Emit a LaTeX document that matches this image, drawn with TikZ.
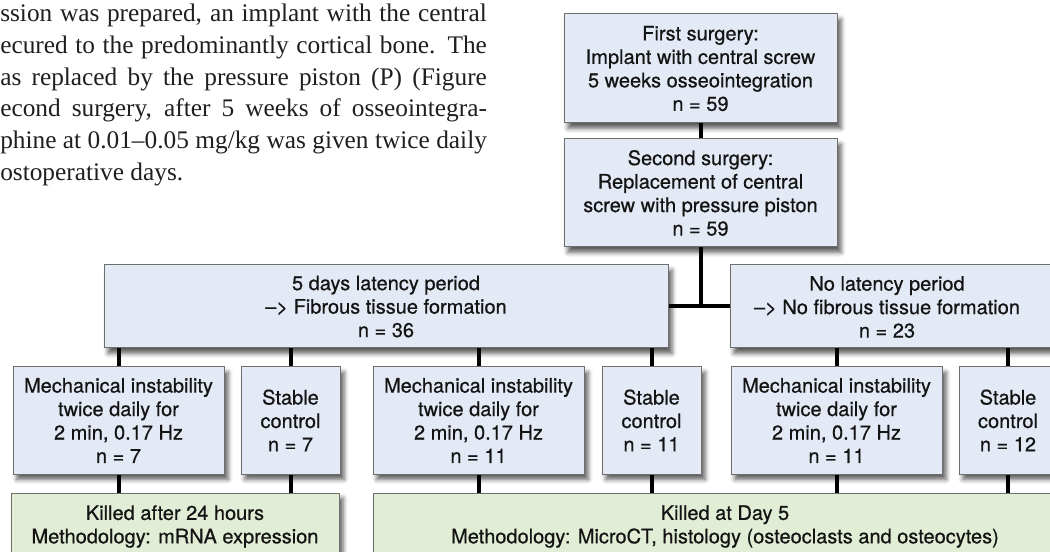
\documentclass[tikz,border=0pt]{standalone}
\usepackage{fontspec}
\setmainfont{Liberation Serif}
\newfontfamily\boxfont[FakeBold=0.6]{TeX Gyre Heros}
\usetikzlibrary{shadows.blur}
\definecolor{boxblue}{RGB}{228,234,245}
\definecolor{boxgreen}{RGB}{225,237,213}
\definecolor{boxline}{RGB}{110,110,110}
\begin{document}
\begin{tikzpicture}[x=0.75pt,y=-0.75pt,
  box/.style={draw=boxline, line width=0.75pt, inner sep=0pt, align=center,
    font=\boxfont\fontsize{15}{17.6}\selectfont, text=black!92,
    blur shadow={shadow xshift=3pt, shadow yshift=-4pt, shadow blur radius=3.5pt, shadow opacity=65}},
  bluebox/.style={box, fill=boxblue},
  greenbox/.style={box, fill=boxgreen},
  txt/.style={inner sep=0pt, align=center, font=\boxfont\fontsize{15}{17.6}\selectfont, text=black!92},
  conn/.style={line width=3pt, black},
  para/.style={anchor=base west, inner sep=0pt, font=\fontsize{19}{23}\selectfont, text=black!88}
]
\useasboundingbox (0,0) rectangle (1050,552);
\clip (0,0) rectangle (1050,552);

% paragraph text
\node[para] (p1) at (0,21.7)  {\makebox[365pt][s]{ssion was prepared, an implant with the central}};
\node[para] (p2) at (0,53.4)  {\makebox[365pt][s]{ecured to the predominantly cortical bone. The}};
\node[para] (p3) at (0,85.1)  {\makebox[365pt][s]{as replaced by the pressure piston (P) (Figure}};
\node[para] (p4) at (0,116.8) {\makebox[365pt][s]{econd surgery, after 5 weeks of osseointegra-}};
\node[para] (p5) at (0,148.5) {\makebox[365pt][s]{phine at 0.01–0.05 mg/kg was given twice daily}};
\node[para] (p6) at (0,180.2) {ostoperative days.};

% boxes
\node[bluebox, minimum width=204.75pt, minimum height=81.75pt] (A) at (700.5,68.5)
  {First surgery:\\Implant with central screw\\5 weeks osseointegration\\n = 59};
\node[bluebox, minimum width=204.75pt, minimum height=81pt] (B) at (700.5,193)
  {Second surgery:\\Replacement of central\\screw with pressure piston\\n = 59};
\node[bluebox, minimum width=423pt, minimum height=62.25pt] (C) at (386,306.5)
  {5 days latency period\\–> Fibrous tissue formation\\n = 36};
\node[bluebox, minimum width=255pt, minimum height=62.25pt] (D) at (900,306.5) {};
\node[txt] (Dt) at (887,307) {No latency period\\–> No fibrous tissue formation\\n = 23};

\node[bluebox, minimum width=158.25pt, minimum height=80.25pt] (E1) at (118.5,420.5)
  {Mechanical instability\\twice daily for\\2 min, 0.17 Hz\\n = 7};
\node[bluebox, minimum width=74.25pt, minimum height=80.25pt] (E2) at (290.5,420.5)
  {Stable\\control\\n = 7};
\node[bluebox, minimum width=158.25pt, minimum height=80.25pt] (E3) at (478.5,420.5)
  {Mechanical instability\\twice daily for\\2 min, 0.17 Hz\\n = 11};
\node[bluebox, minimum width=74.25pt, minimum height=80.25pt] (E4) at (651.5,420.5)
  {Stable\\control\\n = 11};
\node[bluebox, minimum width=158.25pt, minimum height=80.25pt] (E5) at (836.5,420.5)
  {Mechanical instability\\twice daily for\\2 min, 0.17 Hz\\n = 11};
\node[bluebox, minimum width=73.5pt, minimum height=80.25pt] (E6) at (1008,420.5)
  {Stable\\control\\n = 12};

\node[greenbox, minimum width=246pt, minimum height=50.25pt] (F1) at (175,526.5)
  {Killed after 24 hours\\Methodology: mRNA expression};
\node[greenbox, minimum width=528pt, minimum height=50.25pt] (F2) at (725,526.5)
  {Killed at Day 5\\Methodology: MicroCT, histology (osteoclasts and osteocytes)};

% connectors
\draw[conn] (A.south) -- (B.north);
\draw[conn] (B.south) -- (B.south |- C.east);
\draw[conn] (C.east) -- (D.west);
\foreach \e in {E1,E2,E3,E4} \draw[conn] (\e.north) -- (\e.north |- C.south);
\foreach \e in {E5,E6} \draw[conn] (\e.north) -- (\e.north |- D.south);
\foreach \e in {E1,E2} \draw[conn] (\e.south) -- (\e.south |- F1.north);
\foreach \e in {E3,E4,E5,E6} \draw[conn] (\e.south) -- (\e.south |- F2.north);
\end{tikzpicture}
\end{document}
